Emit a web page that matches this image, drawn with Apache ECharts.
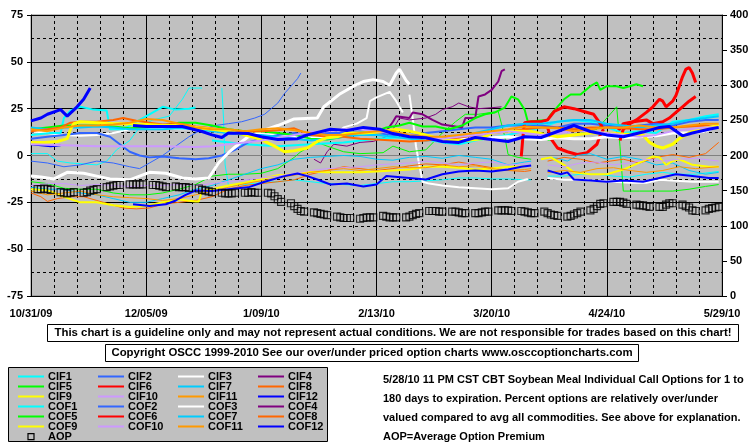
<!DOCTYPE html>
<html><head><meta charset="utf-8">
<script src="https://cdn.jsdelivr.net/npm/echarts@6/dist/echarts.min.js"></script>
<style>html,body{margin:0;padding:0;background:#fff}#c{width:755px;height:446px}</style>
</head><body><div id="c"></div>
<script>
const dateLabels = ['10/31/09','12/05/09','1/09/10','2/13/10','3/20/10','4/24/10','5/29/10'];
const leftTicks = [-75,-50,-25,0,25,50,75];
const rightTicks = [0,50,100,150,200,250,300,350,400];

// [day since 10/31/09, percent]
const cif1 = [[0,1],[5,1],[8,-3],[12,-4],[16,-4.5],[20,-5],[23,-3],[26,3],[30,8],[33,15],[37,19],[42,21],[46,30],[48,36],[52,36],[54,null],[58,36],[58.5,20],[59,-5],[60,-16],[65,-15.5],[70,-14.5],[75,-14],[80,-13],[85,-14],[90,-15],[95,-15.5],[100,-16],[105,-15],[110,-14],[115,-14],[120,-13.5],[125,-13],[130,-12],[135,-12],[140,-12.5],[145,-12.5],[150,-13],[152,-13],[155,null],[157,-11],[162,-11],[167,-10],[172,-10],[177,-11],[182,-11.5],[187,-10],[192,-9],[197,-10],[202,-10],[209,-8.5]];
const cif2 = [[0,-3],[5,-4],[10,-6],[15,-5],[20,-3],[25,-4],[30,-6],[33,-7],[36,-4],[40,0],[44,5],[48,10],[52,14],[56,16],[60,17],[64,18],[68,20],[71,22],[73,25],[75,28],[77,33],[79,37],[81,41],[82,44]];
const cif3 = [[0,13],[5,12],[10,11],[15,10.5],[20,11],[25,12],[30,14],[35,14.5],[40,14.5],[45,14],[50,14],[55,13],[60,12.5],[65,12],[70,11.5],[75,11],[80,10],[85,9.5],[90,10],[93,12],[95,15],[99,17],[102,20],[103,29],[105,31],[109,34],[111,29],[113,23],[114,null],[115,32.5],[116,20],[117,5],[118,-5],[119,-14],[121,-15],[125,-16],[130,-17],[135,-17.5],[140,-18],[145,-17.5],[148,-14],[151,-12.5],[154,null],[157,-12],[162,-13],[167,-13],[172,-13.5],[177,-14],[182,-14.5],[187,-14.5],[191,-13],[196,-13.5],[201,-14],[206,-14],[209,-14]];
const cif4 = [[86,-2],[88,-4],[90,2],[92,6],[96,5],[100,7],[104,7.5],[108,10],[110,14],[112,20],[115,19],[120,20],[123,22],[125,24.5],[128,26],[130,28],[133,26],[136,25],[140,25.5],[143,26]];
const cif5 = [[0,-14],[5,-15],[10,-17.5],[15,-18],[20,-18],[25,-20],[30,-21],[35,-21],[40,-20],[45,-18],[50,-15.5],[55,-11],[60,-10],[65,-10],[70,-9.5],[75,-7],[80,-1],[82,2],[87,7],[90,5],[95,2],[100,1],[107,1.5],[110,5],[115,2],[120,3],[125,12],[129,18],[132,22],[136,22],[140,23],[142,23.5],[144,10],[145,0.5],[148,-1],[152,-2],[155,null],[157,8],[162,10],[167,12],[172,14],[175,20],[178,26],[179,5],[180,-19],[185,-19],[190,-19],[195,-19],[200,-18],[205,-16.5],[209,-15.5]];
const cif6 = [[157,15],[158,9],[160,4],[163,2],[166,0.5],[169,1.5],[172,6],[173,11],[174,14],[176,null],[178,12],[180,17],[183,18],[187,19],[189,17],[192,18],[194,20],[196,23],[198,26],[200,29],[202,31.5]];
const cif7 = [[0,-17],[5,-18],[10,-18],[15,-20],[20,-21],[25,-23],[30,-25],[35,-25],[40,-23],[45,-21],[50,-18],[55,-16],[60,-13],[65,-10],[70,-7],[75,-5],[80,-2],[85,-1],[90,-0.5],[95,0],[100,-0.5],[105,-2],[110,-2.5],[115,-1],[120,-0.5],[125,-1.5],[130,0],[135,-1],[140,-2],[145,-5],[150,-3.5],[152,-3],[155,null],[157,-1],[160,-1.5],[163,-3],[166,0],[170,1],[175,-2],[180,-0.5],[185,-2],[190,-5],[195,-4],[200,-8],[205,-10],[209,-9]];
const cif8 = [[0,-20],[3,-22],[5,-24.5],[8,-23],[12,-22],[16,-22],[20,-24],[24,-26],[28,-28],[32,-28.5],[36,-28],[40,-26],[45,-25],[50,-24],[55,-22],[60,-18],[65,-16],[70,-15],[75,-14],[80,-13],[85,-10],[90,-8],[95,-6],[100,-7],[105,-8],[110,-7],[115,-5.5],[120,-4.5],[125,-5],[130,-3.5],[135,-5],[140,-6.5],[145,-8],[150,-8.5],[152,-8],[155,null],[157,-3],[162,-1],[167,-2],[172,-4],[176,-3],[180,-2],[185,-4],[190,-1],[195,0.5],[200,-1],[205,1],[209,7]];
const cif9 = [[0,-18],[5,-18.5],[10,-22],[15,-25],[20,-25],[25,-26.5],[30,-27.5],[35,-27],[40,-25],[45,-23.5],[50,-24.5],[51,-24.5],[52,-19],[55,-18],[60,-16],[65,-14.5],[70,-12.5],[75,-10.5],[80,-10],[85,-8.5],[90,-9],[95,-9],[100,-9],[105,-8.5],[110,-8],[115,-7.5],[120,-6],[125,-6],[130,-6.5],[135,-7.5],[140,-7],[145,-6],[150,-6],[152,null],[155,-2],[158,-1],[162,-5],[165,-9],[170,-10],[175,-10],[180,-7.5],[186,-3],[189,-0.5],[191,-1],[193,-5],[195,-3],[197,-2],[201,-5],[206,-6],[209,-6]];
const cif10 = [[0,-16],[5,-15],[10,-15],[15,-16],[20,-15.5],[25,-16],[30,-16.5],[35,-16],[40,-16],[45,-15.5],[50,-16],[55,-15],[60,-14],[65,-13],[70,-12],[75,-11],[80,-9.5],[85,-8],[90,-7],[95,-6.5],[100,-6],[105,-5],[110,-4.5],[115,-4],[120,-3],[125,-4],[130,-5],[135,-4],[140,-3.5],[145,-5],[150,-4.5],[152,-4],[155,null],[157,-5],[162,-6],[167,-4],[172,-3.5],[177,-5],[182,-4],[187,-2],[192,-3],[197,-2],[202,-1.5],[209,-3]];
const cif11 = [[0,-19],[5,-21],[10,-20],[15,-19],[20,-21],[25,-22],[30,-22.5],[35,-23],[40,-24],[45,-23],[50,-21],[55,-19],[60,-17],[65,-15],[70,-13.5],[75,-12],[80,-10.5],[85,-9],[90,-8],[95,-7],[100,-8],[105,-7],[110,-6],[115,-6.5],[120,-6.5],[125,-5],[130,-6],[135,-5.5],[140,-7],[145,-8],[150,-7.5],[152,-7],[155,null],[157,-9],[162,-8],[167,-9],[172,-7],[177,-6.5],[182,-8],[187,-9],[192,-8],[197,-6],[202,-7],[209,-6]];
const cif12 = [[0,6],[3,5.5],[6,5],[9,5.5],[20,null],[31,-26],[36,-27],[41,-26],[44,-24],[47,-21],[50,-18.7],[55,-19],[60,-18],[66,-17],[71,-14],[77,-11],[81,-9.6],[84,-11],[87,-12.8],[91,-15.5],[96,-15],[101,-16.5],[105,-15.5],[108,-11],[115,-12],[120,-12.8],[125,-10],[130,-8.5],[135,-8],[140,-8.5],[145,-7.5],[149,-6],[152,-5.3],[155,null],[157,-8],[159,-9],[161,-10],[163,-9],[165,-12.8],[170,-13.3],[175,-14],[180,-13.3],[186,-14],[191,-12],[196,-10],[201,-11],[206,-12],[209,-12]];

const cof1 = [[0,11],[3,11.5],[6,12],[9,12],[10,20],[12,24],[15,26],[19,24.5],[23,24],[24,14],[28,14],[32,18],[36,22],[40,26],[44,24.5],[48,25],[50,25.6],[52,null],[55,8],[65,6],[75,5],[85,6],[95,7],[105,9],[115,10],[125,7],[130,6],[135,8],[145,11],[155,15],[160,18],[165,19],[170,18],[175,15],[180,12],[185,13],[190,12],[195,18],[200,19],[205,21],[209,22]];
const cof2 = [[0,9],[5,10],[10,11],[15,12],[20,12],[24,10],[27,6],[30,2],[33,0],[36,-1],[40,-0.5],[45,-1.5],[50,-2],[54,-1.5],[58,0],[62,3],[66,7],[70,9],[75,11],[80,12],[85,11],[90,12],[95,12],[100,13],[105,12],[110,11],[115,11],[120,12],[125,13],[130,14],[135,15],[140,15],[145,16],[150,16],[155,16],[160,15],[165,17],[170,17],[175,16],[180,15],[185,16],[190,17],[195,16],[200,18],[205,19],[209,19]];
const cof3 = [[0,-11],[3,-11.5],[7,-12.5],[11,-9],[16,-9.5],[20,-11],[24,-12.5],[30,-13],[36,-9],[41,-9.5],[46,-12],[50,-12.5],[54,-12],[57,-4],[60,1.5],[63,6],[66,10],[70,13],[75,16],[80,19.5],[87,20],[89,26],[94,33],[98,37],[101,39.5],[104,40.5],[107,39.5],[109,37.5],[111,44],[112,46],[114,40],[115,38],[116,null],[117,10],[120,9],[125,8],[130,8.5],[135,9],[140,9.5],[145,10],[150,9],[155,8.5],[160,9.5],[165,9],[170,9],[175,10],[180,9.5],[185,10],[190,10.5],[195,12],[200,12],[205,13],[209,16]];
const cof4 = [[108,13],[110,18],[111,21],[115,20],[116,23],[119,22],[122,19],[125,16.5],[129,15.5],[131,15],[132,20],[135,20],[136,31.5],[138,32.6],[140,35],[142,39.5],[143,45],[144,46]];
const cof5 = [[0,14],[5,15],[10,16],[15,16],[20,16],[25,15.5],[30,14.5],[35,15],[40,16],[45,17.5],[50,17.5],[55,16],[60,14],[65,13],[70,13],[75,12],[80,11],[85,9],[90,8.5],[95,10],[100,12],[105,13],[108,15],[112,16],[115,17.5],[119,15.5],[123,15.5],[127,14],[131,16],[135,20],[138,22],[141,23],[144,25.6],[146,31.5],[148,30],[150,24.5],[151,18],[154,18.5],[157,19],[158,22],[160,26],[162,30],[164,32.6],[167,32.6],[170,37],[172,39],[173,35],[175,37],[178,37],[180,36],[182,37],[184,38],[186,37]];
const cof6 = [[149,-0.5],[149.5,10],[150,17.5],[152,18],[155,18],[157,19],[159,23.5],[162,26],[165,25],[168,23.5],[171,22],[173,17],[174,14],[176,null],[179,8],[180,14],[182,17],[184,19],[187,23],[189,26],[191,30],[192,29],[193,26],[195,29],[196,32],[197,37],[198,42],[199,46],[200,47],[201,44],[202,39]];
const cof7 = [[0,15],[5,14],[10,15],[15,15],[20,15.5],[25,15],[30,14],[35,14],[40,14],[45,14.5],[50,14],[55,13],[60,12],[65,11],[70,11],[75,10],[80,9],[85,8],[90,9],[95,10],[100,11],[105,11],[110,10],[115,9],[120,8],[125,9],[130,10],[135,12],[140,14],[145,16],[150,17],[155,17],[160,18],[165,19],[170,19],[175,17],[180,16],[185,15],[190,16],[195,17],[200,19],[205,20],[209,21]];
const cof8 = [[0,13],[5,14],[9,15],[12,17.5],[15,18],[20,18],[25,19],[28,20],[32,18.5],[36,17.5],[40,16.5],[45,17],[50,15.5],[55,14.5],[60,13],[65,12.8],[70,13],[75,13.5],[80,14.5],[85,11],[90,10],[95,10],[100,9],[105,8.5],[110,8],[115,7.5],[120,8],[125,9],[130,9.5],[135,11],[140,12],[145,13],[150,14],[155,15],[160,15],[165,14],[170,15],[175,15],[180,14.5],[185,14],[190,14],[195,15],[200,15.5],[205,16],[209,15]];
const cof9 = [[0,7],[4,7],[8,7.5],[11,9],[12,14],[13,17],[15,18],[20,17.5],[25,17],[30,17],[35,16.5],[40,16],[45,16],[50,15],[55,14],[60,13],[65,11],[70,8.5],[74,5],[77,2],[80,2.5],[84,4],[87,7.5],[90,9.5],[93,10],[96,12],[101,12],[106,12.5],[111,14],[115,13],[120,11],[123,9.5],[127,8],[132,8],[137,9],[140,12],[143,13],[148,13],[152,12.8],[157,11],[160,10],[165,11],[170,12],[175,12],[180,11.5],[186,11],[188,7],[190,5],[192,4],[195,6],[197,9],[200,12],[203,14],[206,15],[209,16]];
const cof10 = [[0,6],[10,5.5],[20,5],[30,5],[40,5],[50,4.5],[55,5],[60,6],[65,7],[70,8],[75,9.5],[80,11],[85,12.5],[90,13],[95,14],[100,14],[105,13],[110,12],[115,11],[120,10],[125,9],[130,10],[135,11],[140,12],[145,13],[150,12],[155,11],[160,12],[165,13],[170,13],[175,12],[180,11],[185,10],[190,11],[195,13],[200,14],[205,15],[209,15]];
const cof11 = [[0,14],[5,13],[10,15],[15,16],[20,16],[25,16.5],[30,17.5],[35,19.5],[40,19],[45,17],[50,15],[55,14],[60,14],[65,13],[70,14],[75,14.5],[80,13.5],[85,12],[90,11],[95,11],[100,12],[105,13],[110,13],[115,11],[120,10],[125,10],[130,11],[135,12],[140,13],[145,14],[150,15.5],[155,15],[160,14.5],[165,13],[170,14],[175,15],[180,15],[185,16],[190,15],[195,15],[200,16],[205,17],[209,17]];
const cof12 = [[0,18.5],[3,20],[5,22],[9,24.5],[11,21],[14,26],[16,30],[18,36],[25,null],[31,16],[35,15.5],[40,15.5],[46,15.5],[52,12.8],[55,11],[58,9.6],[60,12],[66,11.7],[70,10],[75,8.5],[81,9],[84,11],[91,14],[96,13.3],[101,15],[106,14],[110,11.7],[115,10],[120,9.5],[125,7.5],[130,7],[135,9.6],[140,8.5],[145,7.5],[150,10],[155,9.6],[160,12.8],[165,16],[170,12.8],[175,11],[180,10],[186,12.5],[191,15],[194,15.5],[198,10.5],[201,12],[206,14],[209,15]];

// AOP (right axis), 5 trading days per week, 30 weeks
const aopWeeks = [
 [152,152,153,152,151],[148,147,146,147,148],[147,148,150,151,152],[155,156,157,158,158],[159,159,159,159,159],
 [158,158,157,156,155],[156,155,155,155,154],[153,151,150,149,148],[147,146,146,146,147],[147,147,148,147,147],
 [147,146,142,138,134],[132,128,124,121,120],[119,118,117,116,115],[113,112,111,111,111],[110,111,112,112,112],
 [114,113,112,112,112],[112,113,115,117,118],[121,121,121,120,120],[120,120,119,118,118],[118,118,119,120,120],
 [122,122,122,122,121],[121,120,119,118,118],[120,118,116,115,114],[113,114,116,118,120],[122,124,128,131,132],
 [134,134,134,133,131],[130,129,129,128,127],[127,127,130,132,132],[130,128,126,122,121],[122,124,125,126,127]
];

const names = ['CIF1','CIF2','CIF3','CIF4','CIF5','CIF6','CIF7','CIF8','CIF9','CIF10','CIF11','CIF12',
               'COF1','COF2','COF3','COF4','COF5','COF6','COF7','COF8','COF9','COF10','COF11','COF12'];
const datas = [cif1,cif2,cif3,cif4,cif5,cif6,cif7,cif8,cif9,cif10,cif11,cif12,
               cof1,cof2,cof3,cof4,cof5,cof6,cof7,cof8,cof9,cof10,cof11,cof12];
const colors = ['#00FFFF','#3366FF','#FFFFFF','#800080','#00FF00','#FF0000','#00CCFF','#FF6600','#FFFF00','#CC99FF','#FF9900','#0000FF'];
const widthsCIF = [1,1,2,1,1,3,1,1,2,1,1,2];
const widthsCOF = [2,2,3,2,2,3,2,2,3,2,2,3];

const aopData = [];
aopWeeks.forEach((w, wi) => w.forEach((v, k) => aopData.push([2 + 7*wi + k, v])));

const FONT = "'Liberation Sans',Arial,sans-serif";

const series = names.map((n, i) => ({
  name: n, type: 'line', data: datas[i], yAxisIndex: 0,
  symbol: 'none', showSymbol: false, connectNulls: false, smooth: false,
  lineStyle: { color: colors[i % 12], width: i < 12 ? widthsCIF[i] : widthsCOF[i-12] },
  itemStyle: { color: colors[i % 12] },
  silent: true, z: 2 + (i >= 12 ? 1 : 0)
}));
series.push({
  name: 'AOP', type: 'scatter', yAxisIndex: 1, data: aopData,
  symbol: 'rect', symbolSize: 7,
  itemStyle: { color: 'rgba(0,0,0,0)', borderColor: '#000', borderWidth: 1.2 },
  z: 5, silent: true
});

const legendCols = [
  ['CIF1','CIF5','CIF9','COF1','COF5','COF9','AOP'],
  ['CIF2','CIF6','CIF10','COF2','COF6','COF10'],
  ['CIF3','CIF7','CIF11','COF3','COF7','COF11'],
  ['CIF4','CIF8','CIF12','COF4','COF8','COF12']
];
const legends = legendCols.map((col, ci) => ({
  orient: 'vertical', left: 17 + 80*ci, top: 371, height: 140, itemWidth: 26, itemHeight: 10, itemGap: -1,
  symbolKeepAspect: true,
  data: col.map(n => n === 'AOP'
    ? { name: n, icon: 'path://M0,0M10,10M2,2L8,2L8,8L2,8Z',
        itemStyle: { opacity: 1, color: 'rgba(0,0,0,0)', borderColor: '#000', borderWidth: 1.2 } }
    : { name: n }),
  itemStyle: { opacity: 0 },
  selectedMode: false, z: 10, padding: 0,
  textStyle: { color: '#000', fontWeight: 'bold', fontSize: 11, fontFamily: FONT, padding: [0,0,0,-1] }
}));

const chart = echarts.init(document.getElementById('c'), null, { renderer: 'canvas' });
chart.setOption({
  animation: false,
  backgroundColor: '#fff',
  grid: { left: 31, top: 15, width: 691, height: 281, show: true, backgroundColor: '#C0C0C0', borderColor: '#808080', borderWidth: 1 },
  xAxis: {
    type: 'value', min: 0, max: 210, interval: 35,
    axisLine: { show: true, lineStyle: { color: '#808080', width: 1 } },
    axisTick: { show: false },
    axisLabel: { formatter: v => dateLabels[Math.round(v/35)], color: '#000', fontWeight: 'bold', fontSize: 11, fontFamily: FONT, margin: 12 },
    splitLine: { show: true, lineStyle: { color: '#000', width: 1 } },
    minorTick: { show: false, splitNumber: 5 },
    minorSplitLine: { show: true, lineStyle: { color: '#000', width: 1, type: [3,3] } }
  },
  yAxis: [{
    type: 'value', min: leftTicks[0], max: leftTicks[leftTicks.length-1], interval: 25, position: 'left',
    axisLine: { show: true, lineStyle: { color: '#000', width: 1 } },
    axisTick: { show: true, length: 4, lineStyle: { color: '#000' } },
    axisLabel: { color: '#000', fontWeight: 'bold', fontSize: 11, fontFamily: FONT, margin: 8 },
    splitLine: { show: true, lineStyle: { color: '#000', width: 1 } },
    minorTick: { show: false, splitNumber: 2 },
    minorSplitLine: { show: true, lineStyle: { color: '#000', width: 1, type: [3,3] } }
  }, {
    type: 'value', min: rightTicks[0], max: rightTicks[rightTicks.length-1], interval: 50, position: 'right',
    axisLine: { show: true, lineStyle: { color: '#000', width: 1 } },
    axisTick: { show: true, length: 5, lineStyle: { color: '#000' } },
    axisLabel: { color: '#000', fontWeight: 'bold', fontSize: 11, fontFamily: FONT, margin: 8 },
    splitLine: { show: false }
  }],
  legend: legends,
  series: series,
  graphic: [
    { type: 'rect', shape: { x: 47.5, y: 324.5, width: 691, height: 17 }, style: { fill: '#fff', stroke: '#000', lineWidth: 1 }, z: 1 },
    { type: 'text', x: 393, y: 333, style: { text: 'This chart is a guideline only and may not represent actual conditions. We are not responsible for trades based on this chart!', fill: '#000', font: 'bold 11.4px ' + FONT, textAlign: 'center', textVerticalAlign: 'middle' }, z: 2 },
    { type: 'rect', shape: { x: 105.5, y: 344.5, width: 533, height: 17 }, style: { fill: '#fff', stroke: '#000', lineWidth: 1 }, z: 1 },
    { type: 'text', x: 372, y: 353, style: { text: 'Copyright OSCC 1999-2010 See our over/under priced option charts www.osccoptioncharts.com', fill: '#000', font: 'bold 11.4px ' + FONT, textAlign: 'center', textVerticalAlign: 'middle' }, z: 2 },
    { type: 'rect', shape: { x: 8.5, y: 367.5, width: 319, height: 74 }, style: { fill: '#C0C0C0', stroke: '#000', lineWidth: 1 }, z: 0 },
    { type: 'text', x: 383, y: 370, style: { text: '5/28/10 11 PM CST CBT Soybean Meal Individual Call Options for 1 to\n180 days to expiration. Percent options are relatively over/under\nvalued compared to avg all commodities. See above for explanation.\nAOP=Average Option Premium', fill: '#000', font: 'bold 11px ' + FONT, lineHeight: 19, textAlign: 'left', textVerticalAlign: 'top' }, z: 2 }
  ]
});
</script></body></html>
